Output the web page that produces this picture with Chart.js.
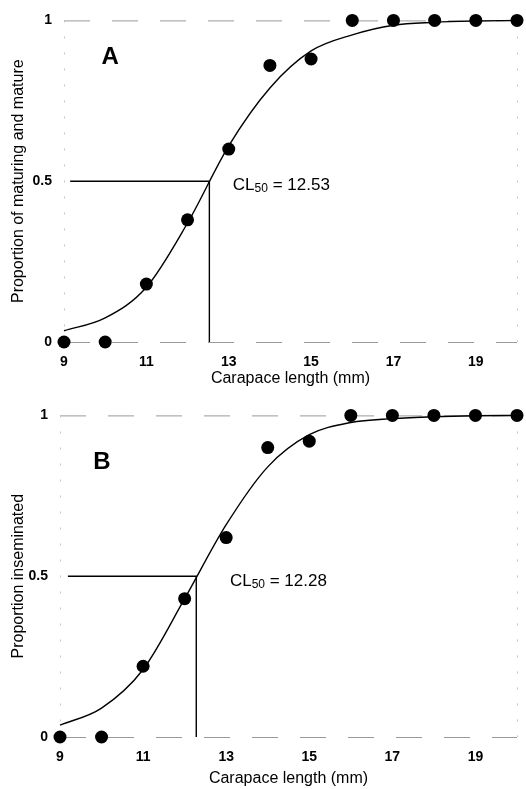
<!DOCTYPE html>
<html>
<head>
<meta charset="utf-8">
<script src="https://cdn.jsdelivr.net/npm/chart.js@4/dist/chart.umd.min.js"></script>
<style>
  html, body { margin: 0; padding: 0; background: #fff; }
  #wrap { position: relative; width: 526px; height: 789px; }
  canvas { position: absolute; left: 0; }
  #panelA { top: 0; }
  #panelB { top: 395px; }
</style>
</head>
<body>
<div id="wrap">
  <canvas id="panelA" width="526" height="395"></canvas>
  <canvas id="panelB" width="526" height="394"></canvas>
</div>
<script>
// Carapace length classes (mm) and axis ticks
const lengths = [9, 10, 11, 12, 13, 14, 15, 16, 17, 18, 19, 20];
const xTicks = [9, 11, 13, 15, 17, 19];
const yTicks = [0, 0.5, 1];

// A: observed proportion of maturing + mature, and the fitted curve
const maturingObs = [0, 0, 0.18, 0.38, 0.60, 0.86, 0.88, 1, 1, 1, 1, 1];
const maturingFit = [0.035, 0.075, 0.17, 0.37, 0.61, 0.79, 0.905, 0.955, 0.985, 0.994, 0.998, 1.0];
const cl50Maturing = 12.53;

// B: observed proportion inseminated, and the fitted curve
const inseminatedObs = [0, 0, 0.22, 0.43, 0.62, 0.90, 0.92, 1, 1, 1, 1, 1];
const inseminatedFit = [0.037, 0.09, 0.21, 0.43, 0.66, 0.84, 0.94, 0.978, 0.99, 0.996, 0.999, 1.0];
const cl50Inseminated = 12.28;

const xTitle = 'Carapace length (mm)';
const yTitleA = 'Proportion of maturing and mature';
const yTitleB = 'Proportion inseminated';

const FAMILY = '"Liberation Sans", Arial, Helvetica, sans-serif';

// Faint broken frame, panel letter and the CL50 annotation
const panelDecor = {
  id: 'panelDecor',
  beforeDatasetsDraw(chart, args, opts) {
    const { ctx, chartArea: a } = chart;
    ctx.save();
    ctx.lineWidth = 1;
    ctx.strokeStyle = '#9a9a9a';
    ctx.setLineDash([26, 22]);
    ctx.beginPath();
    ctx.moveTo(a.left, a.top + 0.5); ctx.lineTo(a.right, a.top + 0.5);
    ctx.moveTo(a.left, a.bottom + 0.5); ctx.lineTo(a.right, a.bottom + 0.5);
    ctx.stroke();
    ctx.strokeStyle = '#c4c4c4';
    ctx.setLineDash([2, 14]);
    ctx.beginPath();
    ctx.moveTo(a.left + 0.5, a.top); ctx.lineTo(a.left + 0.5, a.bottom);
    ctx.moveTo(a.right + 0.5, a.top); ctx.lineTo(a.right + 0.5, a.bottom);
    ctx.stroke();
    ctx.restore();
  },
  afterDatasetsDraw(chart, args, opts) {
    const { ctx } = chart;
    const xs = chart.scales.x, ys = chart.scales.y;
    ctx.save();
    ctx.fillStyle = '#000';
    // panel letter
    ctx.font = 'bold 24px ' + FAMILY;
    ctx.textAlign = 'center';
    ctx.textBaseline = 'middle';
    ctx.fillText(opts.letter, xs.getPixelForValue(opts.letterAt[0]), ys.getPixelForValue(opts.letterAt[1]));
    // CL50 = value, with subscript
    let px = xs.getPixelForValue(opts.labelAt[0]);
    const base = ys.getPixelForValue(opts.labelAt[1]);
    ctx.textAlign = 'left';
    ctx.textBaseline = 'alphabetic';
    ctx.font = '17px ' + FAMILY;
    ctx.fillText('CL', px, base);
    px += ctx.measureText('CL').width;
    ctx.font = '12px ' + FAMILY;
    ctx.fillText('50', px, base + 2);
    px += ctx.measureText('50').width;
    ctx.font = '17px ' + FAMILY;
    ctx.fillText(' = ' + opts.cl50.toFixed(2), px, base);
    ctx.restore();
  }
};

function buildPanel(id, p) {
  return new Chart(document.getElementById(id), {
    type: 'line',
    data: {
      datasets: [
        {
          label: 'observed',
          data: lengths.map((x, i) => ({ x, y: p.obs[i] })),
          showLine: false,
          pointRadius: 6.5,
          pointBackgroundColor: '#000',
          pointBorderColor: '#000',
          pointBorderWidth: 0,
          clip: false,
          order: 0
        },
        {
          label: 'CL50 guide',
          data: [{ x: p.guideStart, y: 0.5 }, { x: p.cl50, y: 0.5 }, { x: p.cl50, y: 0 }],
          borderColor: '#000',
          borderWidth: 1.4,
          pointRadius: 0,
          tension: 0,
          clip: false,
          order: 1
        },
        {
          label: 'fitted',
          data: lengths.map((x, i) => ({ x, y: p.fit[i] })),
          borderColor: '#000',
          borderWidth: 1.4,
          pointRadius: 0,
          cubicInterpolationMode: 'monotone',
          clip: false,
          order: 2
        }
      ]
    },
    options: {
      responsive: false,
      animation: false,
      events: [],
      layout: { padding: { top: p.areaTop, right: 9, left: 0, bottom: 0 } },
      plugins: {
        legend: { display: false },
        tooltip: { enabled: false },
        panelDecor: { letter: p.letter, letterAt: p.letterAt, labelAt: p.labelAt, cl50: p.cl50 }
      },
      scales: {
        x: {
          type: 'linear',
          min: 9,
          max: 20,
          grid: { display: false, drawTicks: false },
          border: { display: false },
          afterBuildTicks: s => { s.ticks = xTicks.map(v => ({ value: v })); },
          afterFit: s => { s.height = p.xAxisHeight; },
          ticks: {
            autoSkip: false, maxRotation: 0, padding: 12, color: '#000',
            font: { family: FAMILY, size: 14, weight: 'bold' },
            callback: v => String(v)
          },
          title: {
            display: true, text: xTitle, color: '#000',
            font: { family: FAMILY, size: 16 },
            padding: { top: 0, bottom: p.xTitlePad }
          }
        },
        y: {
          type: 'linear',
          min: 0,
          max: 1,
          grid: { display: false, drawTicks: false },
          border: { display: false },
          afterBuildTicks: s => { s.ticks = yTicks.map(v => ({ value: v })); },
          afterFit: s => { s.width = p.axisLeft; },
          ticks: {
            padding: 12, color: '#000',
            font: { family: FAMILY, size: 14, weight: 'bold' },
            callback: v => String(v)
          },
          title: {
            display: true, text: p.yTitle, color: '#000',
            font: { family: FAMILY, size: 16 },
            padding: { top: 9, bottom: 0 }
          }
        }
      }
    },
    plugins: [panelDecor]
  });
}

buildPanel('panelA', {
  obs: maturingObs, fit: maturingFit, cl50: cl50Maturing,
  yTitle: yTitleA, letter: 'A',
  letterAt: [10.12, 0.884], labelAt: [13.1, 0.474], guideStart: 9.15,
  areaTop: 14, axisLeft: 64, xAxisHeight: 53, xTitlePad: 7
});

buildPanel('panelB', {
  obs: inseminatedObs, fit: inseminatedFit, cl50: cl50Inseminated,
  yTitle: yTitleB, letter: 'B',
  letterAt: [10.01, 0.854], labelAt: [13.09, 0.469], guideStart: 9.19,
  areaTop: 20, axisLeft: 60, xAxisHeight: 52, xTitlePad: 1
});
</script>
</body>
</html>
